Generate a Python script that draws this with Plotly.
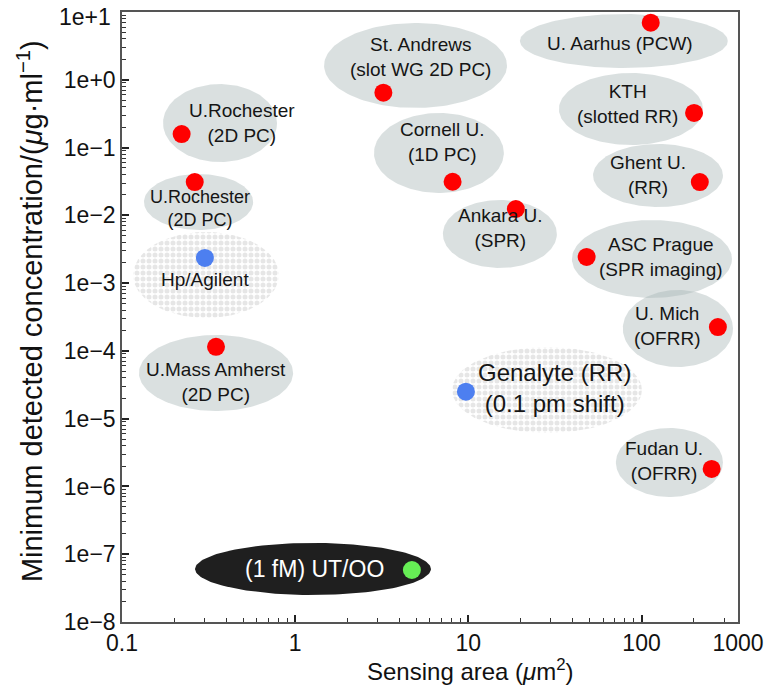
import numpy as np
import plotly.graph_objects as go

# ---------------- data ----------------
groups = ["U.Rochester (2D PC) a", "U.Rochester (2D PC) b", "Hp/Agilent", "U.Mass Amherst (2D PC)",
          "(1 fM) UT/OO", "St. Andrews (slot WG 2D PC)", "Cornell U. (1D PC)", "Ankara U. (SPR)",
          "Genalyte (RR)", "U. Aarhus (PCW)", "KTH (slotted RR)", "Ghent U. (RR)",
          "ASC Prague (SPR imaging)", "U. Mich (OFRR)", "Fudan U. (OFRR)"]
sensing_area = [0.221, 0.263, 0.301, 0.349, 4.72, 3.23, 8.11, 18.8,
                9.68, 113, 201, 217, 48.2, 276, 254]
min_conc = [0.158, 0.031, 0.00235, 1.15e-4, 5.85e-8, 0.644, 0.0313, 0.0124,
            2.5e-5, 6.95, 0.324, 0.031, 0.00243, 2.25e-4, 1.81e-6]
kind = ["lab", "lab", "commercial", "lab", "ut", "lab", "lab", "lab",
        "commercial", "lab", "lab", "lab", "lab", "lab", "lab"]

x_tickvals_log = [-1, 0, 1, 2, 2.557]
x_ticktext = ["0.1", "1", "10", "100", "1000"]
y_tickvals_log = list(range(-8, 2))
y_ticktext = ["1e\u22128", "1e\u22127", "1e\u22126", "1e\u22125", "1e\u22124",
              "1e\u22123", "1e\u22122", "1e\u22121", "1e+0", "1e+1"]

x_title = "Sensing area (<i>\u03bc</i>m<sup>2</sup>)"
y_title = "Minimum detected concentration/(<i>\u03bc</i>g\u00b7ml<sup>\u22121</sup>)"

# ---------------- label bubbles (layout, in log10 decades) ----------------
# (text, bubble centre x, centre y, radius x, radius y, text x, text y, style, font size)
bubbles = [
    ("U.Rochester<br>(2D PC)", -0.434, -0.638, 0.329, 0.575, -0.307, -0.645, "gray", 19),
    ("U.Rochester<br>(2D PC)", -0.558, -1.803, 0.315, 0.413, -0.550, -1.906, "gray", 18),
    ("Hp/Agilent", -0.515, -2.880, 0.421, 0.634, -0.521, -2.954, "dots", 19),
    ("U.Mass Amherst<br>(2D PC)", -0.457, -4.326, 0.445, 0.561, -0.457, -4.466, "gray", 19),
    ("(1 fM) UT/OO", 0.103, -7.218, 0.681, 0.384, 0.114, -7.218, "dark", 23),
    ("St. Andrews<br>(slot WG 2D PC)", 0.695, 0.211, 0.528, 0.627, 0.721, 0.343, "gray", 19),
    ("Cornell U.<br>(1D PC)", 0.830, -1.080, 0.375, 0.590, 0.848, -0.925, "gray", 19),
    ("Ankara U.<br>(SPR)", 1.182, -2.275, 0.329, 0.502, 1.182, -2.194, "gray", 19),
    ("Genalyte (RR)<br>(0.1 pm shift)", 1.454, -4.577, 0.548, 0.634, 1.500, -4.547, "dots", 24),
    ("U. Aarhus (PCW)", 1.898, 0.572, 0.600, 0.398, 1.875, 0.528, "gray", 19),
    ("KTH<br>(slotted RR)", 1.939, -0.431, 0.416, 0.531, 1.921, -0.350, "gray", 19),
    ("Ghent U.<br>(RR)", 2.095, -1.412, 0.375, 0.465, 2.037, -1.405, "gray", 19),
    ("ASC Prague<br>(SPR imaging)", 2.060, -2.644, 0.462, 0.575, 2.112, -2.622, "gray", 19),
    ("U. Mich<br>(OFRR)", 2.210, -3.670, 0.318, 0.568, 2.147, -3.640, "gray", 19),
    ("Fudan U.<br>(OFRR)", 2.161, -5.647, 0.309, 0.509, 2.129, -5.624, "gray", 19),
]

marker_colors = {"lab": "#ff0000", "commercial": "#4d7ff0", "ut": "#66ee55"}
FONT = "Liberation Sans, Arial, Helvetica, sans-serif"
TICK_SIZE = 23

fig = go.Figure()
t = np.linspace(0, 2 * np.pi, 160)
for (txt, cx, cy, rx, ry, tx, ty, style, fs) in bubbles:
    ex = 10 ** (cx + rx * np.cos(t))
    ey = 10 ** (cy + ry * np.sin(t))
    kw = dict(x=ex, y=ey, mode="lines", fill="toself", line=dict(width=0),
              hoverinfo="skip", showlegend=False)
    if style == "gray":
        kw["fillcolor"] = "rgba(168,180,180,0.42)"
    elif style == "dark":
        kw["fillcolor"] = "#1f1f1f"
    else:
        kw["fillcolor"] = "rgba(255,255,255,0)"
        kw["fillpattern"] = dict(shape=".", fgcolor="#cdcdcd", bgcolor="rgba(255,255,255,0)",
                                 size=6, solidity=0.55)
    fig.add_trace(go.Scatter(**kw))
    fig.add_annotation(x=tx, y=ty, xref="x", yref="y", text=txt, showarrow=False,
                       font=dict(family=FONT, size=fs, color="white" if style == "dark" else "#151515"),
                       align="center")

fig.add_trace(go.Scatter(
    x=sensing_area, y=min_conc, mode="markers", text=groups,
    marker=dict(size=18, color=[marker_colors[k] for k in kind], line=dict(width=0)),
    showlegend=False, hovertemplate="%{text}<br>%{x}, %{y}<extra></extra>"))

axis_common = dict(type="log", showline=True, mirror=True, linecolor="#555555", linewidth=1.5,
                   showgrid=False, zeroline=False, ticks="inside", ticklen=7, tickwidth=1.5,
                   tickcolor="#222222", tickfont=dict(family=FONT, size=TICK_SIZE, color="#111111"),
                   automargin=False, ticklabeloverflow="allow",
                   minor=dict(ticks="inside", ticklen=4, tickwidth=1.2, tickcolor="#333333",
                              dtick="D1", showgrid=False))

fig.update_xaxes(**axis_common, range=[-1, 2.557], tickmode="array",
                 tickvals=[10 ** v for v in x_tickvals_log], ticktext=x_ticktext)
# top tick label is drawn as an annotation (nudged down so it is not clipped at the page edge)
fig.update_yaxes(**axis_common, range=[-8, 1], tickmode="array",
                 tickvals=[10 ** v for v in y_tickvals_log],
                 ticktext=y_ticktext[:-1] + [""])
fig.add_annotation(x=0, y=y_tickvals_log[-1], xref="paper", yref="y", text=y_ticktext[-1],
                   showarrow=False, xanchor="right", yanchor="middle", xshift=-9, yshift=-5,
                   font=dict(family=FONT, size=TICK_SIZE, color="#111111"))

# axis titles
fig.add_annotation(x=0.565, y=-0.078, xref="paper", yref="paper", text=x_title, showarrow=False,
                   xanchor="center", yanchor="middle",
                   font=dict(family=FONT, size=24, color="#111111"))
fig.add_annotation(x=-0.149, y=0.51, xref="paper", yref="paper", text=y_title, showarrow=False,
                   textangle=-90, xanchor="center", yanchor="middle",
                   font=dict(family=FONT, size=29, color="#111111"))

fig.update_layout(width=773, height=687, plot_bgcolor="white", paper_bgcolor="white",
                  margin=dict(l=114, r=43, t=4, b=73), showlegend=False)

fig.write_html("out.html")
